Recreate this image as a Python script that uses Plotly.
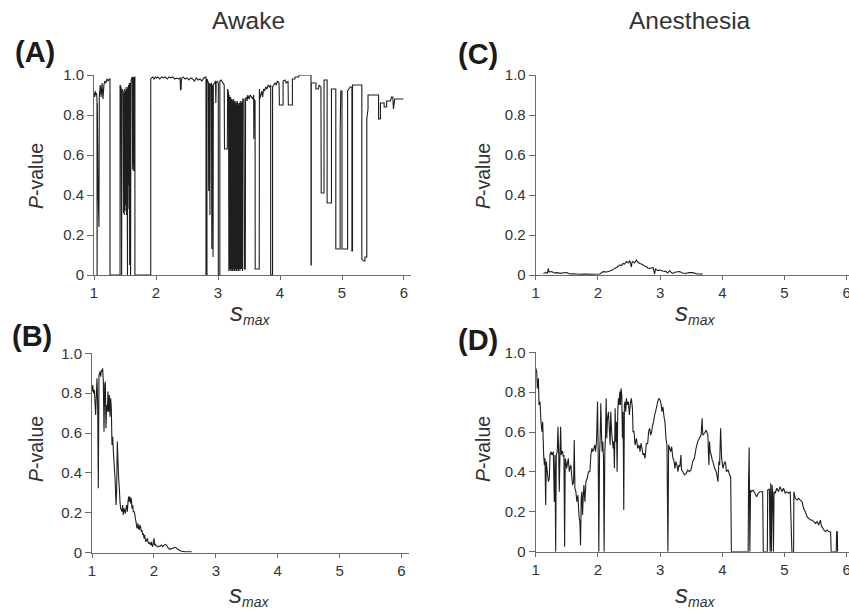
import plotly.graph_objects as go

# ---------------- data ----------------
# Panel A: Awake, P-value vs s_max
a_x = [1.000, 1.010, 1.020, 1.030, 1.040, 1.048, 1.050, 1.053, 1.065, 1.080, 1.086, 1.100, 1.115, 1.130, 1.145,
       1.160, 1.175, 1.190, 1.210, 1.230, 1.245, 1.258, 1.258, 1.420,
       1.420, 1.435, 1.446, 1.450, 1.462, 1.470, 1.476, 1.482, 1.488, 1.494, 1.500, 1.506, 1.512, 1.518,
       1.524, 1.530, 1.536, 1.540, 1.544, 1.550, 1.556, 1.562, 1.570, 1.575, 1.580, 1.590, 1.596, 1.605,
       1.618, 1.623, 1.628, 1.633, 1.638, 1.643, 1.648, 1.653, 1.658, 1.660, 1.660, 1.915, 1.915,
       1.930, 1.950, 1.970, 1.990, 2.010, 2.030, 2.060, 2.090, 2.120, 2.150, 2.180, 2.210, 2.240, 2.270, 2.300,
       2.330, 2.360, 2.390, 2.395, 2.405, 2.410, 2.440, 2.470, 2.500, 2.530, 2.560, 2.590, 2.620, 2.650, 2.680,
       2.710, 2.740, 2.770, 2.800, 2.806, 2.806, 2.822, 2.822, 2.835, 2.845, 2.850, 2.855, 2.865, 2.870, 2.875,
       2.895, 2.900, 2.905, 2.915, 2.920, 2.925, 2.945, 2.960, 2.965, 2.970, 2.990, 3.005, 3.005, 3.030, 3.030,
       3.050, 3.080, 3.100, 3.105, 3.150, 3.155, 3.165, 3.170,
       3.175, 3.180, 3.187, 3.192, 3.199, 3.204, 3.211, 3.216, 3.223, 3.228, 3.235, 3.240, 3.247, 3.252, 3.259,
       3.264, 3.271, 3.276, 3.283, 3.288, 3.295, 3.300, 3.307, 3.312, 3.319, 3.324, 3.331, 3.336, 3.343, 3.348,
       3.355, 3.360, 3.367, 3.372, 3.380, 3.386, 3.395, 3.400, 3.420, 3.425, 3.440, 3.445, 3.460, 3.470, 3.480,
       3.500, 3.520, 3.540, 3.560, 3.575, 3.578, 3.582, 3.598, 3.600, 3.665, 3.668, 3.672, 3.690, 3.705, 3.720,
       3.735, 3.750, 3.770, 3.790, 3.810, 3.830, 3.850, 3.850, 3.880, 3.880, 3.900, 3.920, 3.940, 3.960, 3.985,
       3.990, 4.050, 4.050, 4.080, 4.100, 4.130, 4.135, 4.200, 4.200, 4.240, 4.245, 4.300, 4.310, 4.500, 4.500,
       4.505, 4.505, 4.580, 4.580, 4.620, 4.630, 4.660, 4.665, 4.710, 4.710, 4.760, 4.760, 4.830, 4.830, 4.900,
       4.900, 4.970, 4.970, 4.980, 5.000, 5.000, 5.090, 5.090, 5.130, 5.160, 5.160, 5.170, 5.170, 5.320, 5.320,
       5.350, 5.370, 5.370, 5.400, 5.400, 5.420, 5.420, 5.590, 5.590, 5.620, 5.620, 5.680, 5.680, 5.720, 5.720,
       5.780, 5.800, 5.820, 5.830, 5.850, 5.990]
a_p = [0.91, 0.89, 0.92, 0.90, 0.91, 0.88, 0.00, 0.86, 0.45, 0.24, 0.89, 0.95, 0.89, 0.96, 0.88,
       0.95, 0.97, 0.96, 0.98, 0.97, 0.98, 0.98, 0.00, 0.00,
       0.95, 0.94, 0.00, 0.93, 0.92, 0.92, 0.31, 0.91, 0.30, 0.93, 0.32, 0.92, 0.35, 0.94,
       0.30, 0.93, 0.40, 0.00, 0.94, 0.33, 0.95, 0.45, 0.96, 0.05, 0.96, 0.00, 0.97, 0.98,
       0.99, 0.53, 0.99, 0.52, 0.99, 0.55, 0.99, 0.52, 0.99, 0.99, 0.00, 0.00, 0.98,
       0.985, 0.99, 0.98, 0.99, 0.985, 0.99, 0.98, 0.99, 0.985, 0.99, 0.98, 0.99, 0.985, 0.99, 0.98,
       0.985, 0.98, 0.985, 0.925, 0.93, 0.98, 0.99, 0.98, 0.985, 0.975, 0.985, 0.98, 0.97, 0.985, 0.975,
       0.98, 0.97, 0.985, 0.99, 0.99, 0.00, 0.00, 0.98, 0.97, 0.96, 0.42, 0.96, 0.95, 0.30, 0.95,
       0.96, 0.13, 0.95, 0.94, 0.09, 0.95, 0.96, 0.97, 0.86, 0.96, 0.97, 0.96, 0.00, 0.00, 0.97,
       0.975, 0.96, 0.95, 0.63, 0.63, 0.93, 0.92, 0.90,
       0.02, 0.90, 0.03, 0.89, 0.02, 0.89, 0.03, 0.88, 0.02, 0.88, 0.02, 0.87, 0.03, 0.88, 0.02,
       0.87, 0.02, 0.86, 0.03, 0.87, 0.02, 0.86, 0.02, 0.87, 0.03, 0.86, 0.02, 0.85, 0.03, 0.86,
       0.02, 0.87, 0.03, 0.86, 0.03, 0.87, 0.02, 0.88, 0.88, 0.03, 0.03, 0.88, 0.89, 0.87, 0.90,
       0.88, 0.90, 0.89, 0.88, 0.90, 0.68, 0.88, 0.87, 0.03, 0.03, 0.93, 0.88, 0.90, 0.92, 0.89,
       0.93, 0.92, 0.94, 0.93, 0.95, 0.94, 0.95, 0.00, 0.00, 0.94, 0.95, 0.96, 0.95, 0.97, 0.96,
       0.85, 0.85, 0.97, 0.975, 0.96, 0.97, 0.85, 0.85, 0.98, 0.98, 0.99, 0.99, 1.00, 1.00, 0.05,
       0.05, 0.96, 0.96, 0.93, 0.93, 0.95, 0.94, 0.41, 0.41, 0.975, 0.975, 0.36, 0.36, 0.93, 0.93,
       0.13, 0.13, 0.72, 0.92, 0.92, 0.13, 0.13, 0.92, 0.94, 0.94, 0.12, 0.12, 0.95, 0.95, 0.08,
       0.07, 0.07, 0.09, 0.09, 0.78, 0.83, 0.90, 0.90, 0.78, 0.78, 0.86, 0.86, 0.84, 0.84, 0.87,
       0.87, 0.89, 0.89, 0.83, 0.88, 0.88]

# Panel B: Awake
b_x = [1.000, 1.011, 1.027, 1.038, 1.048, 1.059, 1.070, 1.081, 1.092, 1.102, 1.113, 1.129, 1.140, 1.151, 1.162,
       1.172, 1.183, 1.194, 1.205, 1.215, 1.226, 1.237, 1.248, 1.258, 1.269, 1.280, 1.291, 1.302, 1.312, 1.323,
       1.334, 1.345, 1.355, 1.366, 1.377, 1.388, 1.398, 1.409, 1.420, 1.431, 1.442, 1.452, 1.463, 1.474, 1.485,
       1.495, 1.506, 1.517, 1.528, 1.539, 1.549, 1.560, 1.571, 1.582, 1.592, 1.603, 1.614, 1.625, 1.635, 1.646,
       1.657, 1.668, 1.679, 1.689, 1.700, 1.711, 1.722, 1.732, 1.743, 1.754, 1.765, 1.775, 1.786, 1.797, 1.808,
       1.819, 1.829, 1.840, 1.851, 1.862, 1.872, 1.883, 1.894, 1.905, 1.916, 1.926, 1.937, 1.948, 1.959, 1.969,
       1.980, 1.991, 2.002, 2.012, 2.023, 2.034, 2.045, 2.055, 2.066, 2.077, 2.099, 2.120, 2.142, 2.163, 2.185,
       2.206, 2.228, 2.249, 2.271, 2.292, 2.314, 2.335, 2.357, 2.379, 2.400, 2.422, 2.449, 2.502, 2.556, 2.610]
b_p = [0.808, 0.841, 0.799, 0.816, 0.758, 0.691, 0.791, 0.875, 0.741, 0.323, 0.891, 0.908, 0.883, 0.916, 0.908,
       0.925, 0.858, 0.607, 0.841, 0.858, 0.624, 0.741, 0.707, 0.808, 0.707, 0.791, 0.682, 0.774, 0.724, 0.540,
       0.582, 0.507, 0.457, 0.406, 0.339, 0.239, 0.306, 0.557, 0.457, 0.373, 0.323, 0.256, 0.222, 0.214, 0.206,
       0.239, 0.189, 0.222, 0.206, 0.197, 0.222, 0.239, 0.206, 0.256, 0.281, 0.256, 0.281, 0.247, 0.273, 0.222,
       0.239, 0.206, 0.206, 0.197, 0.172, 0.156, 0.130, 0.122, 0.147, 0.122, 0.114, 0.139, 0.130, 0.105, 0.114,
       0.089, 0.097, 0.072, 0.089, 0.064, 0.055, 0.064, 0.072, 0.055, 0.047, 0.050, 0.047, 0.038, 0.055, 0.038,
       0.030, 0.055, 0.072, 0.038, 0.042, 0.035, 0.035, 0.030, 0.030, 0.032, 0.033, 0.038, 0.030, 0.038, 0.042,
       0.037, 0.025, 0.018, 0.018, 0.022, 0.022, 0.027, 0.025, 0.018, 0.015, 0.010, 0.007, 0.005, 0.005, 0.005]

# Panel C: Anesthesia
c_x = [1.123, 1.160, 1.190, 1.203, 1.215, 1.256, 1.300, 1.337, 1.400, 1.450, 1.497, 1.550, 1.600, 1.700, 1.800,
       1.900, 2.031, 2.084, 2.140, 2.191, 2.230, 2.271, 2.310, 2.351, 2.380, 2.405, 2.430, 2.458, 2.490, 2.512,
       2.538, 2.550, 2.565, 2.590, 2.619, 2.640, 2.672, 2.700, 2.725, 2.750, 2.779, 2.800, 2.832, 2.860, 2.886,
       2.912, 2.925, 2.939, 2.960, 2.993, 3.040, 3.099, 3.120, 3.153, 3.180, 3.206, 3.250, 3.313, 3.360, 3.420,
       3.460, 3.527, 3.600, 3.687]
c_p = [0.008, 0.012, 0.010, 0.033, 0.015, 0.017, 0.010, 0.012, 0.008, 0.011, 0.012, 0.005, 0.006, 0.004, 0.005,
       0.004, 0.005, 0.017, 0.015, 0.020, 0.025, 0.033, 0.040, 0.050, 0.048, 0.058, 0.055, 0.067, 0.060, 0.072,
       0.040, 0.065, 0.067, 0.060, 0.075, 0.065, 0.058, 0.055, 0.050, 0.045, 0.042, 0.035, 0.033, 0.035, 0.038,
       0.005, 0.030, 0.028, 0.022, 0.025, 0.020, 0.017, 0.010, 0.022, 0.012, 0.008, 0.015, 0.017, 0.010, 0.008,
       0.012, 0.012, 0.005, 0.005]

# Panel D: Anesthesia
d_x = [1.000, 1.016, 1.027, 1.043, 1.053, 1.069, 1.085, 1.101, 1.112, 1.128, 1.139, 1.150, 1.160, 1.171, 1.187,
       1.203, 1.219, 1.230, 1.246, 1.262, 1.283, 1.299, 1.310, 1.321, 1.331, 1.347, 1.358, 1.369, 1.379, 1.390,
       1.401, 1.411, 1.422, 1.433, 1.443, 1.454, 1.465, 1.475, 1.486, 1.497, 1.507, 1.524, 1.540, 1.550, 1.566,
       1.577, 1.593, 1.609, 1.620, 1.630, 1.646, 1.662, 1.678, 1.689, 1.700, 1.710, 1.721, 1.732, 1.743, 1.753,
       1.764, 1.775, 1.791, 1.807, 1.828, 1.849, 1.871, 1.887, 1.903, 1.919, 1.935, 1.951, 1.962, 1.978, 1.994,
       2.004, 2.015, 2.026, 2.036, 2.047, 2.058, 2.068, 2.079, 2.090, 2.100, 2.111, 2.122, 2.133, 2.143, 2.154,
       2.170, 2.181, 2.197, 2.207, 2.218, 2.229, 2.245, 2.255, 2.266, 2.277, 2.287, 2.298, 2.309, 2.319, 2.330,
       2.341, 2.352, 2.362, 2.373, 2.384, 2.394, 2.405, 2.416, 2.426, 2.437, 2.448, 2.458, 2.474, 2.490, 2.506,
       2.522, 2.538, 2.555, 2.565, 2.581, 2.597, 2.619, 2.640, 2.661, 2.677, 2.693, 2.709, 2.725, 2.741, 2.757,
       2.779, 2.800, 2.816, 2.832, 2.848, 2.864, 2.880, 2.896, 2.912, 2.928, 2.944, 2.961, 2.982, 2.998, 3.014,
       3.030, 3.046, 3.062, 3.078, 3.094, 3.110, 3.126, 3.137, 3.153, 3.169, 3.185, 3.206, 3.222, 3.238, 3.254,
       3.270, 3.286, 3.302, 3.318, 3.334, 3.345, 3.366, 3.393, 3.420, 3.447, 3.470, 3.497, 3.524, 3.551, 3.578,
       3.605, 3.632, 3.659, 3.676, 3.686, 3.714, 3.741, 3.768, 3.784, 3.795, 3.805, 3.822, 3.838, 3.849, 3.876,
       3.903, 3.930, 3.946, 3.957, 3.973, 3.989, 4.011, 4.038, 4.054, 4.065, 4.092, 4.119, 4.135, 4.146, 4.416,
       4.422, 4.432, 4.443, 4.454, 4.470, 4.497, 4.524, 4.551, 4.578, 4.605, 4.632, 4.649, 4.659, 4.724, 4.730,
       4.757, 4.768, 4.778, 4.789, 4.800, 4.811, 4.822, 4.832, 4.849, 4.876, 4.903, 4.930, 4.957, 4.984, 5.011,
       5.038, 5.065, 5.092, 5.119, 5.146, 5.151, 5.173, 5.200, 5.227, 5.254, 5.281, 5.308, 5.335, 5.362, 5.389,
       5.416, 5.443, 5.470, 5.497, 5.524, 5.551, 5.578, 5.595, 5.605, 5.632, 5.659, 5.686, 5.714, 5.741, 5.751,
       5.832, 5.838, 5.849, 5.854]
d_p = [0.920, 0.903, 0.819, 0.870, 0.736, 0.753, 0.652, 0.602, 0.652, 0.485, 0.435, 0.468, 0.234, 0.452, 0.401,
       0.351, 0.368, 0.485, 0.502, 0.485, 0.502, 0.251, 0.485, 0.000, 0.485, 0.502, 0.627, 0.502, 0.301, 0.485,
       0.627, 0.485, 0.502, 0.502, 0.477, 0.485, 0.025, 0.468, 0.452, 0.418, 0.435, 0.468, 0.401, 0.418, 0.435,
       0.385, 0.334, 0.351, 0.560, 0.318, 0.301, 0.251, 0.284, 0.217, 0.167, 0.151, 0.033, 0.268, 0.301, 0.184,
       0.276, 0.334, 0.251, 0.351, 0.368, 0.401, 0.401, 0.485, 0.518, 0.502, 0.518, 0.535, 0.502, 0.552, 0.753,
       0.518, 0.000, 0.485, 0.569, 0.744, 0.585, 0.502, 0.552, 0.468, 0.000, 0.485, 0.585, 0.769, 0.569, 0.669,
       0.702, 0.635, 0.535, 0.702, 0.619, 0.569, 0.518, 0.552, 0.418, 0.719, 0.552, 0.652, 0.401, 0.702, 0.769,
       0.736, 0.803, 0.736, 0.819, 0.786, 0.569, 0.702, 0.209, 0.736, 0.753, 0.702, 0.769, 0.736, 0.753, 0.686,
       0.744, 0.769, 0.719, 0.602, 0.602, 0.535, 0.569, 0.518, 0.535, 0.502, 0.543, 0.518, 0.485, 0.493, 0.468,
       0.543, 0.543, 0.602, 0.619, 0.585, 0.602, 0.635, 0.652, 0.686, 0.702, 0.727, 0.753, 0.769, 0.761, 0.744,
       0.702, 0.727, 0.677, 0.652, 0.569, 0.535, 0.000, 0.535, 0.518, 0.502, 0.527, 0.468, 0.460, 0.418, 0.452,
       0.435, 0.401, 0.435, 0.426, 0.485, 0.410, 0.401, 0.385, 0.393, 0.410, 0.401, 0.410, 0.452, 0.468, 0.518,
       0.552, 0.569, 0.585, 0.669, 0.585, 0.594, 0.610, 0.585, 0.435, 0.552, 0.502, 0.485, 0.460, 0.452, 0.418,
       0.401, 0.351, 0.452, 0.435, 0.619, 0.468, 0.418, 0.452, 0.443, 0.401, 0.410, 0.385, 0.376, 0.000, 0.000,
       0.351, 0.522, 0.000, 0.309, 0.301, 0.309, 0.293, 0.276, 0.293, 0.301, 0.301, 0.301, 0.000, 0.000, 0.309,
       0.314, 0.000, 0.343, 0.000, 0.334, 0.293, 0.000, 0.301, 0.293, 0.318, 0.301, 0.326, 0.301, 0.318, 0.293,
       0.301, 0.293, 0.301, 0.000, 0.000, 0.301, 0.268, 0.259, 0.268, 0.259, 0.251, 0.217, 0.201, 0.176, 0.167,
       0.159, 0.159, 0.151, 0.142, 0.151, 0.134, 0.159, 0.125, 0.125, 0.109, 0.100, 0.109, 0.100, 0.100, 0.000,
       0.000, 0.100, 0.100, 0.000]

y_tickvals = [0, 0.2, 0.4, 0.6, 0.8, 1.0]
y_ticktext = ["0", "0.2", "0.4", "0.6", "0.8", "1.0"]
x_tickvals = [1, 2, 3, 4, 5, 6]
col_titles = ["Awake", "Anesthesia"]
panel_labels = ["(A)", "(B)", "(C)", "(D)"]

# ---------------- layout helpers ----------------
W, H = 849, 612
FONT = "Liberation Sans, Arial, Helvetica, sans-serif"
LINE = "#1e1e1e"
AXC = "#6a6a6a"
TXT = "#333333"


def fx(px):
    return px / W


def fy(py):
    return 1 - py / H


fig = go.Figure()
series = [(a_x, a_p, "x", "y"), (b_x, b_p, "x2", "y2"), (c_x, c_p, "x3", "y3"), (d_x, d_p, "x4", "y4")]
for xs, ps, xa, ya in series:
    fig.add_trace(go.Scatter(x=xs, y=ps, mode="lines", xaxis=xa, yaxis=ya,
                             line=dict(color=LINE, width=1.1, simplify=False),
                             showlegend=False, hoverinfo="skip"))

# panel geometry in pixels: (x_left, x_right, y_top(p=1), y_bottom(p=0), xmax)
geom = {
    "": (94.0, 411.0, 75.0, 275.0, 6.113),
    "2": (92.0, 409.0, 353.3, 552.7, 6.121),
    "3": (535.7, 849.0, 75.0, 275.0, 6.037),
    "4": (535.7, 849.0, 352.3, 551.7, 6.037),
}
axis_common = dict(showline=True, linecolor=AXC, linewidth=1, ticks="outside", tickcolor=AXC,
                   tickwidth=1, showgrid=False, zeroline=False, fixedrange=True, automargin=False,
                   ticklabeloverflow="allow",
                   tickfont=dict(family=FONT, size=15, color=TXT))
layout_axes = {}
for key, (xl, xr, yt, yb, xmax) in geom.items():
    anchor = "y" + key
    layout_axes["xaxis" + key] = dict(axis_common, domain=[fx(xl), fx(xr)], range=[1, xmax],
                                      anchor=anchor, tickvals=x_tickvals, ticklen=4)
    layout_axes["yaxis" + key] = dict(axis_common, domain=[fy(yb), fy(yt)], range=[0, 1],
                                      anchor="x" + key, tickvals=y_tickvals, ticktext=y_ticktext, ticklen=6)

annotations = []


def ann(text, px, py, size, bold=False, angle=0, color=TXT, xanchor="center", yanchor="middle"):
    annotations.append(dict(text=("<b>%s</b>" % text) if bold else text, x=fx(px), y=fy(py),
                            xref="paper", yref="paper", showarrow=False, textangle=angle,
                            xanchor=xanchor, yanchor=yanchor,
                            font=dict(family=FONT, size=size, color=color)))


ann(col_titles[0], 248, 21, 24.5)
ann(col_titles[1], 690, 21, 24.5)
ann(panel_labels[0], 35, 52, 29, bold=True, color="#1a1a1a")
ann(panel_labels[1], 32, 336, 29, bold=True, color="#1a1a1a")
ann(panel_labels[2], 478, 54, 29, bold=True, color="#1a1a1a")
ann(panel_labels[3], 478, 340, 29, bold=True, color="#1a1a1a")
ylab = "<i>P</i>-value"
ann(ylab, 36, 176, 19.5, angle=-90)
ann(ylab, 36, 449, 19.5, angle=-90)
ann(ylab, 483, 176, 19.5, angle=-90)
ann(ylab, 483, 449, 19.5, angle=-90)
xlab = '<span style="font-size:26px"><i>s</i></span><sub><i>max</i></sub>'
ann(xlab, 250, 312, 20)
ann(xlab, 249, 594, 20)
ann(xlab, 695, 312, 20)
ann(xlab, 695, 594, 20)

fig.update_layout(template="none", width=W, height=H, autosize=False, margin=dict(l=0, r=0, t=0, b=0),
                  paper_bgcolor="white", plot_bgcolor="white", annotations=annotations,
                  font=dict(family=FONT, color=TXT), **layout_axes)

fig.write_html("out.html", config={"displayModeBar": False, "staticPlot": True},
               post_script="document.body.style.margin='0';document.body.style.overflow='hidden';")
